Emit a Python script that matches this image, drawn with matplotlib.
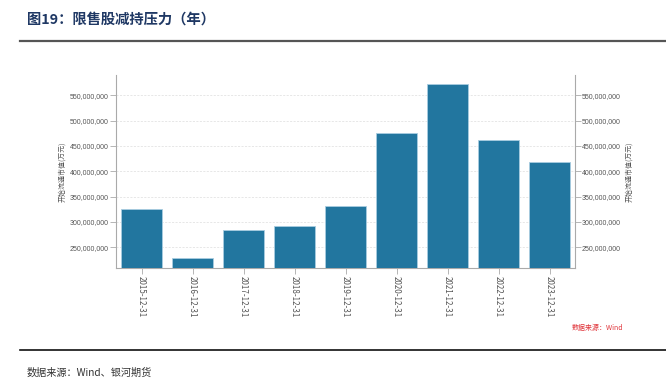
import matplotlib
matplotlib.use('Agg')
import matplotlib.pyplot as plt
from matplotlib.lines import Line2D
from matplotlib.ticker import FuncFormatter

plt.rcParams['font.family'] = ['Noto Sans CJK SC', 'DejaVu Sans']

# 限售股解禁开始流通市值（万元）
dates = ['2015-12-31', '2016-12-31', '2017-12-31', '2018-12-31', '2019-12-31',
         '2020-12-31', '2021-12-31', '2022-12-31', '2023-12-31']
values = [325e6, 228e6, 284e6, 292.5e6, 330.5e6, 475e6, 571.5e6, 462.5e6, 418.5e6]
yticks = [250e6, 300e6, 350e6, 400e6, 450e6, 500e6, 550e6]

fig = plt.figure(figsize=(6.66, 3.91), dpi=100)
ax = fig.add_axes([116 / 666, 1 - 268 / 391, 459 / 666, 193 / 391])

x = list(range(len(dates)))
ax.bar(x, values, width=0.79, color='#22769f', edgecolor='#a9cde0', linewidth=0.6, zorder=3)
ax.set_xlim(-0.5, len(dates) - 0.5)
ax.set_ylim(209e6, 590e6)

fmt = FuncFormatter(lambda v, p: '{:,.0f}'.format(v))
ax.set_yticks(yticks)
ax.yaxis.set_major_formatter(fmt)
ax.grid(axis='y', color='#dddddd', linestyle=(0, (3, 2)), linewidth=0.5, zorder=0)
ax.set_xticks(x)
ax.set_xticklabels(dates, rotation=-90)

grey = '#aaaaaa'
for s in ['left', 'right', 'bottom']:
    ax.spines[s].set_color(grey)
    ax.spines[s].set_linewidth(0.8)
ax.spines['top'].set_visible(False)
ax.tick_params(axis='y', colors=grey, labelcolor='#555555', labelsize=5.0, length=4, width=0.6, pad=1)
ax.tick_params(axis='x', colors=grey, labelcolor='#555555', labelsize=5.8, length=4, width=0.6, pad=2)
for lab in ax.get_yticklabels():
    lab.set_family('Liberation Sans')
ax.set_ylabel('开始流通市值(万元)', fontsize=5, color='#555555', labelpad=3)

ax2 = ax.twinx()
ax2.set_ylim(ax.get_ylim())
ax2.set_yticks(yticks)
ax2.yaxis.set_major_formatter(fmt)
for s in ['left', 'right', 'bottom', 'top']:
    ax2.spines[s].set_visible(False)
ax2.tick_params(axis='y', colors=grey, labelcolor='#555555', labelsize=5.0, length=4, width=0.6, pad=1)
for lab in ax2.get_yticklabels():
    lab.set_family('Liberation Sans')
ax2.set_ylabel('开始流通市值(万元)', fontsize=5, color='#555555', labelpad=3, rotation=90)

fig.text(27 / 666, 1 - 20 / 391, '图19：限售股减持压力（年）', fontsize=10.3, color='#1f3864',
         fontweight='bold', va='center', ha='left')
fig.add_artist(Line2D([20 / 666, 1], [1 - 40.5 / 391] * 2, color='#555555', linewidth=1.6))
fig.text(597 / 666, 1 - 328 / 391, '数据来源：Wind', fontsize=5, color='#e0343a',
         va='center', ha='center')
fig.add_artist(Line2D([20 / 666, 1], [1 - 350 / 391] * 2, color='#111111', linewidth=1.2))
fig.text(27 / 666, 1 - 373 / 391, '数据来源：Wind、银河期货', fontsize=7.3, color='#333333',
         va='center', ha='left')

fig.savefig('out.png', dpi=100)
